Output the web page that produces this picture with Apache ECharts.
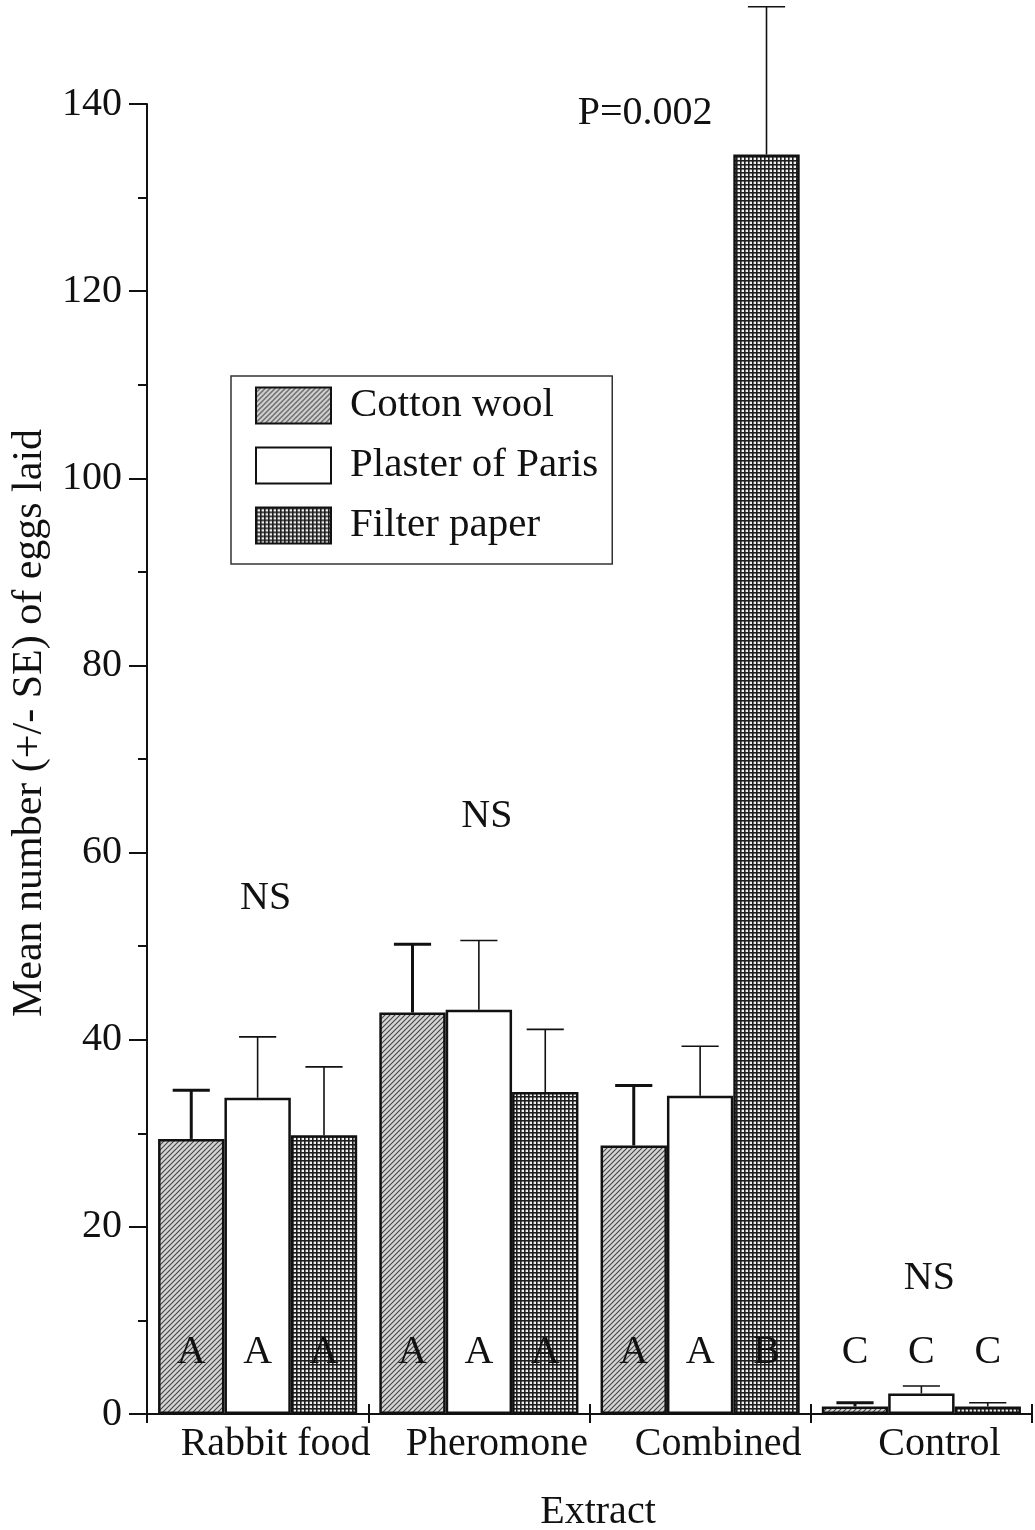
<!DOCTYPE html>
<html>
<head>
<meta charset="utf-8">
<script src="https://cdn.jsdelivr.net/npm/echarts@6/dist/echarts.min.js"></script>
<style>
  html, body { margin: 0; padding: 0; background: #ffffff; }
  #chart { width: 1035px; height: 1530px; }
</style>
</head>
<body>
<div id="chart"></div>
<script>
// Extract treatments (x categories) and oviposition substrates (series)
const extracts = ['Rabbit food', 'Pheromone', 'Combined', 'Control'];
const materials = ['Cotton wool', 'Plaster of Paris', 'Filter paper'];

// Mean number of eggs laid and standard errors
const cottonMean  = [29.4, 42.9, 28.7, 0.8];
const cottonSE    = [5.2, 7.3, 6.4, 0.4];
const plasterMean = [33.8, 43.2, 34.0, 2.2];
const plasterSE   = [6.5, 7.4, 5.3, 0.8];
const filterMean  = [29.8, 34.4, 134.6, 0.8];
const filterSE    = [7.3, 6.7, 15.8, 0.4];

// Significance letters drawn inside each bar
const cottonLetters  = ['A', 'A', 'A', 'C'];
const plasterLetters = ['A', 'A', 'A', 'C'];
const filterLetters  = ['A', 'A', 'B', 'C'];

// Y-axis range and tick step
const yMin = 0;
const yMax = 140;
const yStep = 20;

// Test annotations above each group
const noteTexts  = ['NS', 'NS', 'NS', 'P=0.002'];
const noteCats   = [0, 1, 3, 2];
const noteValues = [55.1, 63.9, 14.5, 139.0];

const FONT = 'Liberation Serif';
const INK = '#111111';

// Fill patterns: diagonal hatching and a fine mesh
function hatchPattern() {
  const c = document.createElement('canvas');
  c.width = 5; c.height = 5;
  const g = c.getContext('2d');
  g.fillStyle = '#d4d4d4';
  g.fillRect(0, 0, 5, 5);
  g.strokeStyle = '#444444';
  g.lineWidth = 1.1;
  g.beginPath();
  g.moveTo(0, 5); g.lineTo(5, 0);
  g.moveTo(-1, 1); g.lineTo(1, -1);
  g.moveTo(4, 6); g.lineTo(6, 4);
  g.stroke();
  return c;
}
function meshPattern() {
  const c = document.createElement('canvas');
  c.width = 4; c.height = 4;
  const g = c.getContext('2d');
  g.fillStyle = '#f2f2f2';
  g.fillRect(0, 0, 4, 4);
  g.fillStyle = '#1e1e1e';
  g.fillRect(0, 0, 4, 1.6);
  g.fillRect(0, 0, 1.6, 4);
  return c;
}

const fills = [
  { image: hatchPattern(), repeat: 'repeat' },
  '#ffffff',
  { image: meshPattern(), repeat: 'repeat' }
];
const means = [cottonMean, plasterMean, filterMean];
const ses = [cottonSE, plasterSE, filterSE];
const letters = [cottonLetters, plasterLetters, filterLetters];
const whiskerWidths = [3, 1.6, 1.6];

const BAR_CATEGORY_GAP = 0.1;

const series = [];
materials.forEach(function (name, k) {
  series.push({
    name: name,
    type: 'bar',
    data: means[k],
    barGap: '0%',
    barCategoryGap: (BAR_CATEGORY_GAP * 100) + '%',
    itemStyle: { color: fills[k], borderColor: INK, borderWidth: 2.5 },
    label: {
      show: true,
      position: 'insideBottom',
      distance: 42,
      formatter: function (p) { return letters[k][p.dataIndex]; },
      fontFamily: FONT,
      fontSize: 40,
      color: INK
    },
    z: 2
  });
});

// Upper standard-error whiskers, offset to sit on each bar
materials.forEach(function (name, k) {
  series.push({
    type: 'custom',
    data: means[k].map(function (m, i) { return [i, m, ses[k][i]]; }),
    encode: { x: 0, y: 1 },
    z: 3,
    silent: true,
    renderItem: function (params, api) {
      const cat = api.value(0);
      const mean = api.value(1);
      const se = api.value(2);
      const base = api.coord([cat, mean]);
      const top = api.coord([cat, mean + se]);
      const band = api.size([1, 0])[0];
      const barW = band * (1 - BAR_CATEGORY_GAP) / materials.length;
      const x = base[0] + (k - 1) * barW;
      const half = barW * 0.28;
      const st = { stroke: INK, lineWidth: whiskerWidths[k] };
      return {
        type: 'group',
        children: [
          { type: 'line', shape: { x1: x, y1: base[1], x2: x, y2: top[1] }, style: st },
          { type: 'line', shape: { x1: x - half, y1: top[1], x2: x + half, y2: top[1] }, style: st }
        ]
      };
    }
  });
});

// Annotation texts placed in data coordinates
series.push({
  type: 'custom',
  silent: true,
  z: 4,
  data: noteTexts.map(function (t, i) { return [noteCats[i], noteValues[i], i]; }),
  encode: { x: 0, y: 1 },
  renderItem: function (params, api) {
    const i = api.value(2);
    const text = noteTexts[i];
    const pt = api.coord([api.value(0), api.value(1)]);
    const dx = text === 'NS' ? 8 : -55;
    return {
      type: 'text',
      x: pt[0] + dx,
      y: pt[1],
      style: {
        text: text,
        fill: INK,
        font: '40px "' + FONT + '"',
        align: 'center',
        verticalAlign: 'middle'
      }
    };
  }
});

const chart = echarts.init(document.getElementById('chart'), null, { renderer: 'canvas' });
chart.setOption({
  animation: false,
  backgroundColor: '#ffffff',
  grid: { left: 147, right: 3, top: 104, bottom: 116, containLabel: false, outerBoundsMode: 'none' },
  legend: {
    data: materials,
    orient: 'vertical',
    left: 231,
    top: 376,
    padding: [9, 14, 18, 24],
    itemWidth: 75,
    itemHeight: 36,
    itemGap: 19,
    icon: 'rect',
    borderColor: '#333333',
    borderWidth: 1.5,
    backgroundColor: '#ffffff',
    selectedMode: false,
    textStyle: {
      fontFamily: FONT,
      fontSize: 41,
      lineHeight: 40,
      color: INK,
      padding: [0, 0, 0, 14]
    }
  },
  xAxis: [
    {
      type: 'category',
      data: extracts,
      boundaryGap: true,
      name: 'Extract',
      nameLocation: 'middle',
      nameGap: 78,
      nameTextStyle: { fontFamily: FONT, fontSize: 40, color: INK, padding: [0, 0, 0, 17] },
      axisLine: { show: true, lineStyle: { color: INK, width: 2 } },
      axisTick: { show: true, inside: false, length: 9, lineStyle: { color: INK, width: 2 } },
      axisLabel: { interval: 0, fontFamily: FONT, fontSize: 40, color: INK, margin: 10, padding: [0, 0, 0, 36] },
      splitLine: { show: false }
    },
    {
      type: 'category',
      data: extracts,
      boundaryGap: true,
      position: 'bottom',
      axisLine: { show: false },
      axisTick: { show: true, inside: true, length: 10, lineStyle: { color: INK, width: 2 } },
      axisLabel: { show: false },
      splitLine: { show: false }
    }
  ],
  yAxis: {
    type: 'value',
    min: yMin,
    max: yMax,
    interval: yStep,
    name: 'Mean number (+/- SE) of eggs laid',
    nameLocation: 'middle',
    nameRotate: 90,
    nameGap: 96,
    nameTextStyle: { fontFamily: FONT, fontSize: 42, color: INK, padding: [0, 0, 0, 72] },
    axisLine: { show: true, lineStyle: { color: INK, width: 2 } },
    axisTick: { show: true, inside: false, length: 18, lineStyle: { color: INK, width: 2 } },
    minorTick: { show: true, splitNumber: 2, length: 9, lineStyle: { color: INK, width: 2 } },
    axisLabel: { fontFamily: FONT, fontSize: 40, color: INK, margin: 25 },
    splitLine: { show: false }
  },
  series: series
});
</script>
</body>
</html>
